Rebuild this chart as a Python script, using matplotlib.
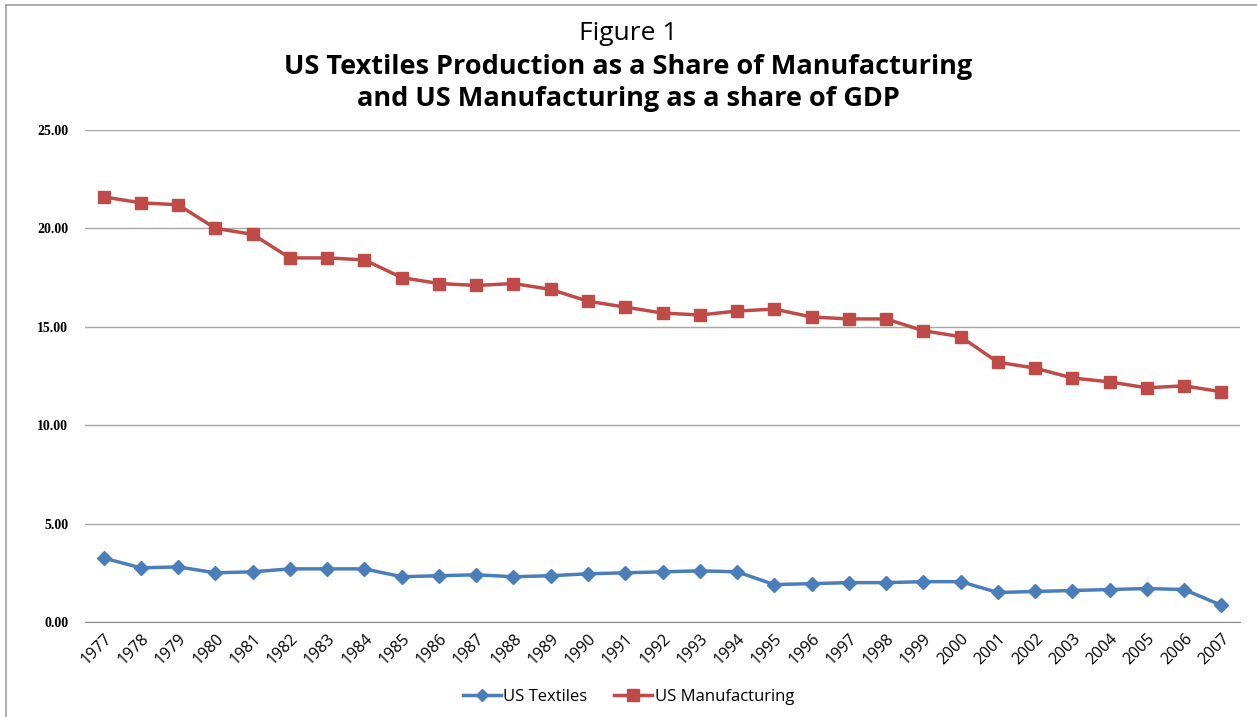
import matplotlib.pyplot as plt
from matplotlib.lines import Line2D

years = list(range(1977, 2008))
us_textiles = [3.25, 2.75, 2.80, 2.50, 2.55, 2.70, 2.70, 2.70, 2.30, 2.35,
               2.40, 2.30, 2.35, 2.45, 2.50, 2.55, 2.60, 2.55, 1.90, 1.95,
               2.00, 2.00, 2.05, 2.05, 1.50, 1.55, 1.60, 1.65, 1.70, 1.65,
               0.85]
us_manufacturing = [21.6, 21.3, 21.2, 20.0, 19.7, 18.5, 18.5, 18.4, 17.5, 17.2,
                    17.1, 17.2, 16.9, 16.3, 16.0, 15.7, 15.6, 15.8, 15.9, 15.5,
                    15.4, 15.4, 14.8, 14.5, 13.2, 12.9, 12.4, 12.2, 11.9, 12.0,
                    11.7]
y_ticks = [0, 5, 10, 15, 20, 25]

blue = '#4a7ebb'
red = '#be4b48'

fig = plt.figure(figsize=(12.57, 7.17), dpi=100)
ax = fig.add_axes([85 / 1257, 1 - 622 / 717, (1240 - 85) / 1257, (622 - 130) / 717])

ax.plot(years, us_textiles, color=blue, lw=2.5, marker='D', ms=7,
        label='US Textiles')
ax.plot(years, us_manufacturing, color=red, lw=2.5, marker='s', ms=9,
        label='US Manufacturing')

ax.set_xlim(1976.5, 2007.5)
ax.set_ylim(0, 25)
ax.set_xticks(years)
ax.set_xticklabels([str(y) for y in years], rotation=45, ha='right',
                   rotation_mode='anchor', fontsize=11.5, family='Open Sans')
ax.set_yticks(y_ticks)
ax.set_yticklabels([f'{v:.2f}' for v in y_ticks], family='Liberation Serif',
                   fontweight='bold', fontsize=10)
ax.tick_params(axis='both', length=0)
ax.tick_params(axis='y', pad=12)
ax.tick_params(axis='x', pad=6)

ax.grid(axis='y', color='#a6a6a6', lw=1)
ax.set_axisbelow(True)
for side in ['top', 'right', 'left']:
    ax.spines[side].set_visible(False)
ax.spines['bottom'].set_color('#8c8c8c')

fig.text(0.5, 1 - 34 / 717, 'Figure 1', ha='center', va='center',
         fontsize=19, family='Open Sans')
fig.text(0.5, 1 - 83 / 717,
         'US Textiles Production as a Share of Manufacturing\n'
         'and US Manufacturing as a share of GDP',
         ha='center', va='center', fontsize=19.5, fontweight='bold',
         family='Open Sans', linespacing=1.3)

handles = [
    Line2D([], [], color=blue, lw=2.5, marker='D', ms=6),
    Line2D([], [], color=red, lw=2.5, marker='s', ms=8),
]
fig.legend(handles, ['US Textiles', 'US Manufacturing'], loc='center',
           bbox_to_anchor=(0.5, 1 - 697 / 717), ncol=2, frameon=False,
           prop={'family': 'Open Sans', 'size': 12}, handlelength=2.3,
           columnspacing=1.6, handletextpad=0.15)

# thin frame along the top and left edges
fig.add_artist(Line2D([6 / 1257, 1], [1 - 5 / 717, 1 - 5 / 717],
                      transform=fig.transFigure, color='#a0a0a0', lw=1.2))
fig.add_artist(Line2D([6 / 1257, 6 / 1257], [0, 1 - 5 / 717],
                      transform=fig.transFigure, color='#a0a0a0', lw=1.2))

fig.savefig('out.png', dpi=100)
